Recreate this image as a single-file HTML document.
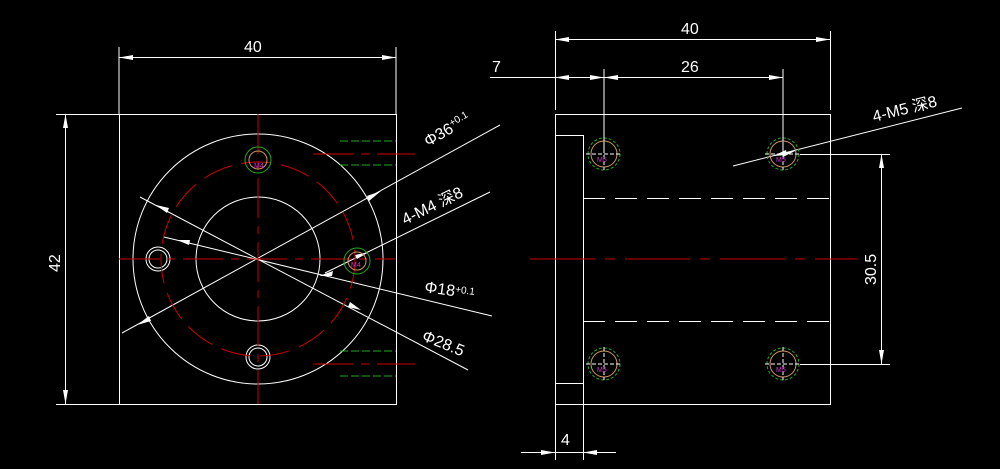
<!DOCTYPE html>
<html><head><style>html,body{margin:0;padding:0;background:#000;}svg{display:block}</style></head><body>
<svg width="1000" height="469" viewBox="0 0 1000 469" xmlns="http://www.w3.org/2000/svg" font-family="Liberation Sans, Noto Sans CJK SC, sans-serif">
<g stroke="#fff" stroke-width="1" fill="none">
<!-- left view -->
<rect x="119.5" y="114.5" width="277" height="290"/>
<circle cx="258" cy="259" r="125"/>
<circle cx="258" cy="259" r="62"/>
<line x1="119" y1="47" x2="119" y2="114"/><line x1="396" y1="47" x2="396" y2="114"/>
<line x1="119" y1="57.5" x2="396" y2="57.5"/>
<line x1="56" y1="114.5" x2="119" y2="114.5"/><line x1="56" y1="404.5" x2="119" y2="404.5"/>
<line x1="65.5" y1="114" x2="65.5" y2="404"/>
<line x1="122" y1="333" x2="500" y2="125"/>
<line x1="140" y1="197" x2="468" y2="370"/>
<line x1="164" y1="237" x2="492" y2="316"/>
<line x1="325" y1="273" x2="490" y2="192"/>
<circle cx="158" cy="259" r="12"/><circle cx="158" cy="259" r="9"/>
<circle cx="258" cy="357" r="12"/><circle cx="258" cy="357" r="9"/>
<!-- right view -->
<rect x="555.5" y="114.5" width="275" height="290"/>
<path d="M555 135.5H583.5V383.5H555"/>
<line x1="583.5" y1="383" x2="583.5" y2="460"/>
<path d="M583 198.5H830M583 321.5H830" stroke-dasharray="22,10"/>
<line x1="555.5" y1="31" x2="555.5" y2="110"/><line x1="830.5" y1="31" x2="830.5" y2="110"/>
<line x1="555" y1="39.5" x2="830" y2="39.5"/>
<line x1="604" y1="69" x2="604" y2="150"/><line x1="783" y1="69" x2="783" y2="150"/>
<line x1="490" y1="77.5" x2="783" y2="77.5"/>
<line x1="800" y1="154.5" x2="890" y2="154.5"/><line x1="800" y1="364.5" x2="890" y2="364.5"/>
<line x1="881.5" y1="154" x2="881.5" y2="364"/>
<line x1="555.5" y1="404" x2="555.5" y2="460"/>
<line x1="521" y1="452.5" x2="616" y2="452.5"/>
<line x1="733" y1="166" x2="962" y2="108"/>
</g>
<g fill="#fff">
<!-- arrowheads -->
<polygon points="119,57.5 133,55 133,60"/><polygon points="396,57.5 382,55 382,60"/>
<polygon points="65.5,114 63,128 68,128"/><polygon points="65.5,404 63,390 68,390"/>
<polygon points="555,39.5 569,37 569,42"/><polygon points="830,39.5 816,37 816,42"/>
<polygon points="604,77.5 618,75 618,80"/><polygon points="783,77.5 769,75 769,80"/>
<polygon points="555,77.5 569,75 569,80"/><polygon points="604,77.5 590,75 590,80"/>
<polygon points="881.5,154 879,168 884,168"/><polygon points="881.5,364 879,350 884,350"/>
<polygon points="555,452.5 541,450 541,455"/><polygon points="583,452.5 597,450 597,455"/>
<polygon points="137,325 149,316 151,321"/><polygon points="381,191 367,196 369,201"/>
<polygon points="156,205 169,208 167,213"/><polygon points="361,310 348,307 350,302"/>
<polygon points="177,240 190,240 189,245"/><polygon points="319,276 332,276 333,271"/>
<polygon points="369,252 357,259 355,255"/>
<polygon points="797,150 784,153 783,157"/><polygon points="773,156 786,150 787,155"/>
</g>
<!-- red centre lines -->
<g stroke="#c00" stroke-width="1" fill="none" stroke-dasharray="40,8,8,8">
<line x1="119" y1="259" x2="396" y2="259"/>
<line x1="258" y1="114" x2="258" y2="404"/>
<circle cx="258" cy="259" r="97" stroke-dasharray="30,10"/>
<line x1="530" y1="259" x2="857" y2="259" stroke-dasharray="65,10,10,10"/>
<line x1="313" y1="154" x2="415" y2="154"/><line x1="313" y1="364" x2="415" y2="364"/>
</g>
<g stroke="#2a2" stroke-width="1" fill="none">
<path d="M340 141H396M340 165H396M340 351H396M340 376H396" stroke-dasharray="8,3"/>
<circle cx="258" cy="160" r="13"/><circle cx="357" cy="261" r="13"/>
<g stroke-dasharray="3,2"><circle cx="604" cy="154" r="16"/><circle cx="783" cy="154" r="16"/><circle cx="604" cy="364" r="16"/><circle cx="783" cy="364" r="16"/></g>
</g>
<g stroke="#c96" stroke-width="1" fill="none">
<circle cx="258" cy="160" r="9"/><circle cx="357" cy="261" r="9"/>
<circle cx="604" cy="154" r="13"/><circle cx="783" cy="154" r="13"/><circle cx="604" cy="364" r="13"/><circle cx="783" cy="364" r="13"/>
</g>
<g stroke="#fff" stroke-width="1" stroke-dasharray="4,2">
<path d="M586 154H620M604 137V170M765 154H800M783 137V170M586 364H620M604 347V380M765 364H800M783 347V380"/>
</g>
<g fill="#c3c" font-size="7"><text x="254" y="168">M4</text><text x="351" y="267">M4</text>
<text x="597" y="162">M5</text><text x="776" y="162">M5</text><text x="597" y="372">M5</text><text x="776" y="372">M5</text></g>
<g fill="#fff" font-size="16">
<text x="244" y="52">40</text>
<text transform="translate(60,272) rotate(-90)">42</text>
<text transform="translate(428,147) rotate(-30)">Φ36<tspan font-size="10" dy="-6">+0.1</tspan></text>
<text transform="translate(405,225) rotate(-26)">4-M4 深8</text>
<text transform="translate(424,292) rotate(8)">Φ18<tspan font-size="10" dy="-4">+0.1</tspan></text>
<text transform="translate(421,340) rotate(22)">Φ28.5</text>
<text x="681" y="34">40</text>
<text x="681" y="72">26</text>
<text x="492" y="72">7</text>
<text x="561" y="445">4</text>
<text transform="translate(876,285) rotate(-90)">30.5</text>
<text transform="translate(874,122) rotate(-14)">4-M5 深8</text>
</g>
</svg>
</body></html>
